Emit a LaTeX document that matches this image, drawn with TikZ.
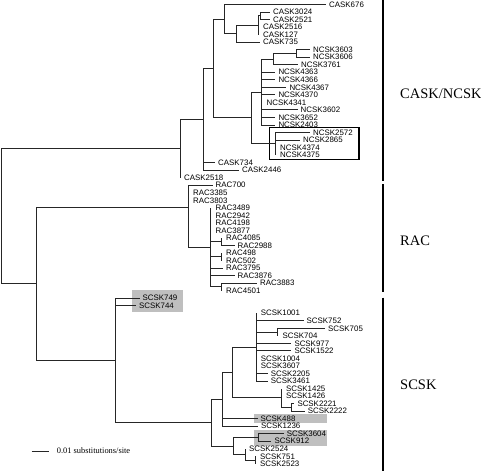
\documentclass[tikz,border=0pt]{standalone}
\usepackage{fontspec}
\setmainfont{Liberation Sans}
\newfontfamily\grpfont{Liberation Serif}
\newcommand{\leafat}[3]{\node[lbl] (#1) at (#3,{4.5+7.53*(#2-1)}) {#1};}
\newcommand{\tbr}[2]{\draw[tree] (#1) |- ([xshift=-3pt]#2.west);}
\newcommand{\tzb}[2]{\draw[tree] (#1) |- (#1 |- #2.west);}
\begin{document}
\begin{tikzpicture}[x=1pt,y=-1pt,
  tree/.style={draw=black!85,line width=0.9pt},
  lbl/.style={anchor=west,inner sep=0pt,font=\fontsize{7.9}{8}\selectfont},
  grp/.style={anchor=west,inner sep=0pt,font=\grpfont\fontsize{14.5}{15}\selectfont},
  hl/.style={fill=black!25,draw=none},
  sep/.style={draw=black,line width=1.8pt}]
\useasboundingbox (0,0) rectangle (481,471);
% highlight boxes
\fill[hl] (132,290) rectangle (183.3,312.3);
\fill[hl] (254,414) rectangle (326.7,422.8);
\fill[hl] (254,429.8) rectangle (326.7,446.2);
\draw[black,line width=1.1pt] (269.3,127.7) rectangle (359,159.3);
% leaves
\leafat{CASK676}{1}{329}
\leafat{CASK3024}{2}{273}
\leafat{CASK2521}{3}{273}
\leafat{CASK2516}{4}{263}
\leafat{CASK127}{5}{263}
\leafat{CASK735}{6}{263}
\leafat{NCSK3603}{7}{313}
\leafat{NCSK3606}{8}{313}
\leafat{NCSK3761}{9}{301}
\leafat{NCSK4363}{10}{278.3}
\leafat{NCSK4366}{11}{278.3}
\leafat{NCSK4367}{12}{289.3}
\leafat{NCSK4370}{13}{278.3}
\leafat{NCSK4341}{14}{266.5}
\leafat{NCSK3602}{15}{300.5}
\leafat{NCSK3652}{16}{278.3}
\leafat{NCSK2403}{17}{278.3}
\leafat{NCSK2572}{18}{313}
\leafat{NCSK2865}{19}{303}
\leafat{NCSK4374}{20}{280}
\leafat{NCSK4375}{21}{280}
\leafat{CASK734}{22}{218}
\leafat{CASK2446}{23}{242}
\leafat{CASK2518}{24}{184}
\leafat{RAC700}{25}{215.5}
\leafat{RAC3385}{26}{193}
\leafat{RAC3803}{27}{193}
\leafat{RAC3489}{28}{215.5}
\leafat{RAC2942}{29}{215.5}
\leafat{RAC4198}{30}{215.5}
\leafat{RAC3877}{31}{215.5}
\leafat{RAC4085}{32}{226}
\leafat{RAC2988}{33}{237.5}
\leafat{RAC498}{34}{226}
\leafat{RAC502}{35}{226}
\leafat{RAC3795}{36}{226}
\leafat{RAC3876}{37}{237.5}
\leafat{RAC3883}{38}{260}
\leafat{RAC4501}{39}{226}
\leafat{SCSK749}{40}{142.5}
\leafat{SCSK744}{41}{139}
\leafat{SCSK1001}{42}{260.7}
\leafat{SCSK752}{43}{306.5}
\leafat{SCSK705}{44}{328}
\leafat{SCSK704}{45}{282.5}
\leafat{SCSK977}{46}{294.3}
\leafat{SCSK1522}{47}{294.3}
\leafat{SCSK1004}{48}{260.7}
\leafat{SCSK3607}{49}{260.7}
\leafat{SCSK2205}{50}{270.7}
\leafat{SCSK3461}{51}{270.7}
\leafat{SCSK1425}{52}{286}
\leafat{SCSK1426}{53}{286}
\leafat{SCSK2221}{54}{297.3}
\leafat{SCSK2222}{55}{307.7}
\leafat{SCSK488}{56}{260.5}
\leafat{SCSK1236}{57}{261}
\leafat{SCSK3604}{58}{286.7}
\leafat{SCSK912}{59}{274.3}
\leafat{SCSK2524}{60}{249}
\leafat{SCSK751}{61}{260}
\leafat{SCSK2523}{62}{260}
% internal nodes
\coordinate (cS) at (260,15.8);
\coordinate (cQ) at (258,25.2);
\coordinate (cP) at (236,33.7);
\coordinate (cA) at (224,19.1);
\coordinate (nA) at (296.7,53.45);
\coordinate (nB) at (273.3,59.1);
\coordinate (nC) at (261.7,92.0);
\coordinate (nE) at (275,143.8);
\coordinate (nD) at (251.7,117.9);
\coordinate (c2) at (213,68.5);
\coordinate (c3) at (203,119.3);
\coordinate (c1) at (180,148.5);
\coordinate (rT) at (221.7,241.7);
\coordinate (rU) at (221.7,256.76);
\coordinate (rV) at (221.7,286.9);
\coordinate (r2) at (210.7,247.4);
\coordinate (r1) at (188,207);
\coordinate (sY) at (255,460.07);
\coordinate (sH) at (245,454.4);
\coordinate (sG) at (258.3,437.5);
\coordinate (sF) at (233.3,446);
\coordinate (sX) at (291,407.36);
\coordinate (sE) at (281.7,397.9);
\coordinate (sW) at (277.3,332.06);
\coordinate (sD) at (256,347.1);
\coordinate (sC) at (232.7,372.5);
\coordinate (sB) at (222.7,399.3);
\coordinate (sR) at (211.7,422.7);
\coordinate (s0) at (115,360.4);
\coordinate (m) at (36,283.7);
\coordinate (root) at (1,216.1);
% CASK/NCSK clade
\draw[tree] (root) |- (c1);
\draw[tree] (root) |- (m);
\draw[tree] (c1) |- (c3);
\tzb{c1}{CASK2518}
\draw[tree] (c3) |- (c2);
\tbr{c3}{CASK734}
\tbr{c3}{CASK2446}
\draw[tree] (c2) |- (cA);
\draw[tree] (c2) |- (nD);
\tbr{cA}{CASK676}
\draw[tree] (cA) |- (cP);
\draw[tree] (cP) |- (cQ);
\tbr{cP}{CASK735}
\draw[tree] (cQ) |- (cS);
\tzb{cQ}{CASK2516}
\tzb{cQ}{CASK127}
\tbr{cS}{CASK3024}
\tbr{cS}{CASK2521}
\draw[tree] (nD) |- (nC);
\draw[tree] (nD) |- (nE);
\draw[tree] (nC) |- (nB);
\draw[tree] (nB) |- (nA);
\tbr{nA}{NCSK3603}
\tbr{nA}{NCSK3606}
\tbr{nB}{NCSK3761}
\tbr{nC}{NCSK4363}
\tbr{nC}{NCSK4366}
\tbr{nC}{NCSK4367}
\tbr{nC}{NCSK4370}
\tzb{nC}{NCSK4341}
\tbr{nC}{NCSK3602}
\tbr{nC}{NCSK3652}
\tbr{nC}{NCSK2403}
\tbr{nE}{NCSK2572}
\tbr{nE}{NCSK2865}
\tzb{nE}{NCSK4374}
\tzb{nE}{NCSK4375}
% RAC clade
\draw[tree] (m) |- (r1);
\draw[tree] (m) |- (s0);
\tbr{r1}{RAC700}
\tzb{r1}{RAC3385}
\tzb{r1}{RAC3803}
\draw[tree] (r1) |- (r2);
\tzb{r2}{RAC3489}
\tzb{r2}{RAC2942}
\tzb{r2}{RAC4198}
\tzb{r2}{RAC3877}
\draw[tree] (r2) |- (rT);
\draw[tree] (r2) |- (rU);
\draw[tree] (r2) |- (rV);
\tbr{r2}{RAC3795}
\tbr{r2}{RAC3876}
\tzb{rT}{RAC4085}
\tbr{rT}{RAC2988}
\tzb{rU}{RAC498}
\tzb{rU}{RAC502}
\tbr{rV}{RAC3883}
\tzb{rV}{RAC4501}
% SCSK clade
\tbr{s0}{SCSK749}
\tbr{s0}{SCSK744}
\draw[tree] (s0) |- (sR);
\draw[tree] (sR) |- (sB);
\draw[tree] (sR) |- (sF);
\draw[tree] (sB) |- (sC);
\tbr{sB}{SCSK488}
\tbr{sB}{SCSK1236}
\draw[tree] (sC) |- (sD);
\draw[tree] (sC) |- (sE);
\tzb{sD}{SCSK1001}
\tbr{sD}{SCSK752}
\draw[tree] (sD) |- (sW);
\tbr{sW}{SCSK705}
\tzb{sW}{SCSK704}
\tbr{sD}{SCSK977}
\tbr{sD}{SCSK1522}
\tzb{sD}{SCSK1004}
\tzb{sD}{SCSK3607}
\tbr{sD}{SCSK2205}
\tbr{sD}{SCSK3461}
\tzb{sE}{SCSK1425}
\tzb{sE}{SCSK1426}
\draw[tree] (sE) |- (sX);
\tbr{sX}{SCSK2221}
\tbr{sX}{SCSK2222}
\draw[tree] (sF) |- (sG);
\draw[tree] (sF) |- (sH);
\tbr{sG}{SCSK3604}
\tbr{sG}{SCSK912}
\tzb{sH}{SCSK2524}
\draw[tree] (sH) |- (sY);
\tzb{sY}{SCSK751}
\tzb{sY}{SCSK2523}
% group separators and labels
\coordinate (g1a) at (383,0);
\coordinate (g1b) at (383,180.5);
\coordinate (g2a) at (383,184);
\coordinate (g2b) at (383,291.5);
\coordinate (g3a) at (383,297.5);
\coordinate (g3b) at (383,471);
\draw[sep] (g1a) -- (g1b);
\draw[sep] (g2a) -- (g2b);
\draw[sep] (g3a) -- (g3b);
\node[grp] (gcask) at (400,94) {CASK/NCSK};
\node[grp] (grac) at (400,241) {RAC};
\node[grp] (gscsk) at (400,384.5) {SCSK};
% scale bar
\coordinate (sba) at (31.7,451);
\coordinate (sbb) at (49.3,451);
\draw[tree] (sba) -- (sbb);
\node[anchor=west,inner sep=0pt,font=\grpfont\fontsize{8.4}{9}\selectfont] (sbl) at (56.7,451) {0.01 substitutions/site};
\end{tikzpicture}
\end{document}
